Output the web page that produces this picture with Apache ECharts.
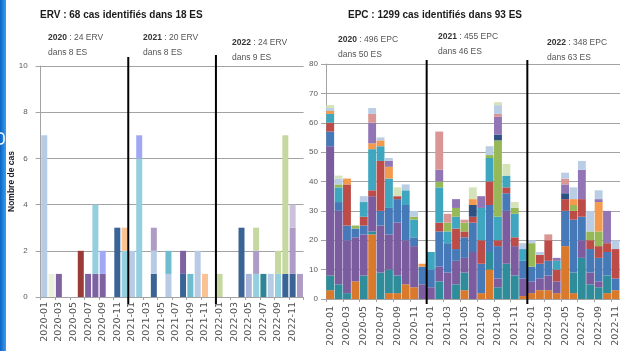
<!DOCTYPE html>
<html><head><meta charset="utf-8">
<script src="https://cdn.jsdelivr.net/npm/echarts@6/dist/echarts.min.js"></script>
<style>html,body{margin:0;padding:0;background:#fff;overflow:hidden;width:620px;height:351px;}#c{width:640px;height:351px;}</style>
</head><body><div id="c"></div>
<script>
// ---- categories ----
const months = ['2020-01','2020-02','2020-03','2020-04','2020-05','2020-06','2020-07','2020-08','2020-09','2020-10','2020-11','2020-12',
 '2021-01','2021-02','2021-03','2021-04','2021-05','2021-06','2021-07','2021-08','2021-09','2021-10','2021-11','2021-12',
 '2022-01','2022-02','2022-03','2022-04','2022-05','2022-06','2022-07','2022-08','2022-09','2022-10','2022-11','2022-12'];

// ---- ERV : cases per establishment (ES) ----
const erv_es01 = [0,0,0,0,0,0,0,0,0,0,3,0, 0,0,0,1,0,0,0,1,0,0,0,0, 0,0,0,3,0,0,0,0,0,1,1,0];
const erv_es02 = [7,0,0,0,0,0,0,0,0,0,0,0, 2,0,0,1,0,1,0,0,0,2,0,0, 0,0,0,0,0,0,0,1,0,0,0,0];
const erv_es03 = [0,0,1,0,0,0,1,1,1,0,0,0, 0,0,0,0,0,0,0,1,0,0,0,0, 0,0,0,0,0,0,0,0,0,0,0,0];
const erv_es04 = [0,0,0,0,0,2,0,0,0,0,0,0, 0,0,0,0,0,0,0,0,0,0,0,0, 0,0,0,0,0,0,0,0,0,0,0,0];
const erv_es05 = [0,0,0,0,0,0,0,3,0,0,0,2, 0,6,0,0,0,0,0,0,0,0,0,0, 0,0,0,0,0,1,0,0,1,0,0,0];
const erv_es06 = [0,0,0,0,0,0,0,0,1,0,0,0, 0,1,0,0,0,0,0,0,0,0,0,0, 0,0,0,0,0,0,0,0,0,0,0,0];
const erv_es07 = [0,0,0,0,0,0,0,0,0,0,0,1, 0,0,0,0,0,0,0,0,0,0,1,0, 0,0,0,0,0,0,0,0,0,0,0,0];
const erv_es08 = [0,1,0,0,0,0,0,0,0,0,0,0, 0,0,0,0,0,0,0,0,0,0,0,0, 0,0,0,0,0,0,0,0,0,0,0,0];
const erv_es09 = [0,0,0,0,0,0,0,0,0,0,0,0, 0,0,0,1,0,0,0,0,0,0,0,0, 0,0,0,0,0,1,0,0,0,0,2,1];
const erv_es10 = [0,0,0,0,0,0,0,0,0,0,0,0, 0,0,0,0,0,1,0,0,1,0,0,0, 0,0,0,0,0,0,0,0,0,0,0,0];
const erv_es11 = [0,0,0,0,0,0,0,0,0,0,0,0, 0,0,0,0,0,0,0,0,0,0,0,0, 1,0,0,0,0,1,0,0,1,6,0,0];
const erv_es12 = [0,0,0,0,0,0,0,0,0,0,0,0, 0,0,0,0,0,0,0,0,0,0,0,0, 0,0,0,0,0,0,0,0,0,0,1,0];
const erv_es13 = [0,0,0,0,0,0,0,0,0,0,0,0, 0,0,0,0,0,0,0,0,0,0,0,0, 0,0,0,0,1,0,0,0,0,0,0,0];
const erv_es14 = [0,0,0,0,0,0,0,0,0,0,0,0, 0,0,0,0,0,0,0,0,0,0,0,0, 0,0,0,0,0,0,1,0,0,0,0,0];

// ---- EPC : cases per establishment group ----
const epc_a = [3,0,0,6,0,22,0,2,2,5,4,0, 0,0,0,0,3,0,2,10,0,0,0,1, 2,3,3,2,18,2,0,0,0,2,3,2];
const epc_b = [5,5,2,0,8,1,9,8,6,0,0,0, 0,6,0,5,6,0,0,6,4,12,8,0, 0,0,0,0,0,7,14,5,4,6,0,0];
const epc_c = [44,25,18,15,14,12,16,12,18,15,14,5, 4,5,9,8,5,16,0,0,3,18,10,6, 4,4,5,4,0,0,6,4,2,0,0,5];
const epc_d = [5,3,5,3,3,0,5,9,8,12,3,6, 6,12,10,4,7,10,10,16,11,6,0,6, 5,5,5,0,12,18,8,8,8,8,4,0];
const epc_e = [3,0,14,0,3,2,17,0,1,0,0,0, 0,3,0,7,2,2,8,8,2,2,3,0, 0,3,7,4,4,3,6,3,4,3,10,5];
const epc_f = [3,5,0,0,5,14,5,10,0,5,6,0, 6,12,4,4,0,0,11,8,8,4,8,4, 0,0,0,3,0,0,0,0,0,0,0,0];
const epc_g = [0,1,0,1,0,0,0,0,0,0,1,0, 0,2,3,3,3,0,0,1,26,0,2,0, 8,0,0,0,0,2,0,3,5,0,0,0];
const epc_h = [0,0,0,0,0,0,0,0,0,0,0,0, 0,0,0,0,0,4,0,0,2,0,0,0, 0,0,0,0,2,0,0,0,0,0,0,0];
const epc_i = [1,0,2,0,0,2,2,4,0,0,0,1, 0,0,0,0,0,2,0,0,0,0,0,0, 0,0,0,0,0,2,0,0,10,0,0,0];
const epc_m = [0,0,0,0,0,7,0,2,0,0,0,0, 0,4,0,3,0,0,4,0,6,0,0,0, 0,0,0,1,3,0,10,0,1,11,0,0];
const epc_j = [0,0,0,0,0,3,0,0,0,0,0,0, 0,13,3,0,1,0,0,0,1,0,0,0, 0,0,2,0,2,0,0,0,0,0,0,0];
const epc_k = [1,2,0,0,2,2,1,1,0,2,2,0, 0,0,0,0,0,0,0,3,3,0,0,2, 1,1,0,0,2,4,3,7,3,0,3,3];
const epc_l = [1,1,0,0,0,0,0,0,3,0,0,0, 0,0,0,0,0,4,0,0,1,4,2,0, 0,0,0,0,0,0,0,0,0,0,0,0];

// ---- texts ----
const ervTitle = 'ERV : 68 cas identifiés dans 18 ES';
const epcTitle = 'EPC : 1299 cas identifiés dans 93 ES';
const ervYears = [['2020',' : 24 ERV','dans 8 ES'],['2021',' : 20 ERV','dans 8 ES'],['2022',' : 24 ERV','dans 9 ES']];
const epcYears = [['2020',' : 496 EPC','dans 50 ES'],['2021',' : 455 EPC','dans 46 ES'],['2022',' : 348 EPC','dans 63 ES']];
const yName = 'Nombre de cas';

// ---- styling (separate from data) ----
const ervDefs = [
 [erv_es01,'#3a6396'],[erv_es02,'#b7cbe4'],[erv_es03,'#7f62a1'],[erv_es04,'#9a3b38'],
 [erv_es05,'#93cfde'],[erv_es06,'#a0a7f3'],[erv_es07,'#f9c394'],[erv_es08,'#e9f0dc'],
 [erv_es09,'#ae9cc6'],[erv_es10,'#6fbccf'],[erv_es11,'#c5d8a0'],[erv_es12,'#ccc1da'],
 [erv_es13,'#aab6d9'],[erv_es14,'#2f8597']
];
const epcDefs = [
 [epc_a,'#d8792c'],[epc_b,'#2f8d9b'],[epc_c,'#7b5c9e'],[epc_d,'#4679b8'],[epc_e,'#bd4b47'],
 [epc_f,'#3ea6bf'],[epc_g,'#97b856'],[epc_h,'#2d5183'],[epc_i,'#f39a4e'],[epc_m,'#9175b5'],
 [epc_j,'#d99694'],[epc_k,'#b9cde5'],[epc_l,'#d5e3bb']
];

const chart = echarts.init(document.getElementById('c'), null, {width:640, height:351, renderer:'canvas'});
const gridCol = '#a3a3a3';
const FONT = 'Liberation Sans, Arial, sans-serif';

function xAx(gi, margin){
  return {type:'category', gridIndex:gi, data:months, boundaryGap:true,
    axisLine:{show:true, lineStyle:{color:gridCol}},
    axisTick:{show:true, length:3, lineStyle:{color:gridCol}},
    axisLabel:{interval:1, rotate:90, fontSize:9.5, fontFamily:'DejaVu Sans', color:'#505050', margin:margin}};
}
function yAx(gi, max, interval, margin, name){
  return {type:'value', gridIndex:gi, min:0, max:max, interval:interval,
    name:name||'', nameLocation:'middle', nameGap:24, nameRotate:90, nameMoveOverlap:false,
    nameTextStyle:{fontSize:8.5, fontWeight:'bold', color:'#222', fontFamily:FONT},
    axisLine:{show:true, lineStyle:{color:gridCol}},
    axisTick:{show:true, length:5, lineStyle:{color:gridCol}},
    splitLine:{show:true, lineStyle:{color:gridCol, width:1}},
    axisLabel:{fontSize:8, color:'#5a5a5a', margin:margin, fontFamily:FONT}};
}

const series = [];
ervDefs.forEach((d,i)=>series.push({type:'bar', name:'ERV-ES'+(i+1), stack:'erv', xAxisIndex:0, yAxisIndex:0,
  data:d[0], barCategoryGap:'18%', itemStyle:{color:d[1]}, silent:true}));
epcDefs.forEach((d,i)=>series.push({type:'bar', name:'EPC-'+(i+1), stack:'epc', xAxisIndex:1, yAxisIndex:1,
  data:d[0], barCategoryGap:'6%', itemStyle:{color:d[1]}, silent:true}));

chart.setOption({
  animation:false,
  backgroundColor:'#fff',
  grid:[{left:40.6, top:66, width:263, height:231},
        {left:326, top:64, width:302, height:235}],
  xAxis:[xAx(0,5), xAx(1,7)],
  yAxis:[yAx(0,10,2,13,yName), yAx(1,80,10,8)],
  series:series
});

function boundary(xi, idx){
  const a = chart.convertToPixel({xAxisIndex:xi}, months[idx-1]);
  const b = chart.convertToPixel({xAxisIndex:xi}, months[idx]);
  return (a+b)/2;
}
const g = [];
// left blue stripe
g.push({type:'rect', shape:{x:0,y:0,width:6,height:351},
  style:{fill:new echarts.graphic.LinearGradient(0,0,1,0,[{offset:0,color:'#0b63c4'},{offset:1,color:'#3a9ef0'}])}, z:10});
g.push({type:'rect', shape:{x:-3,y:133,width:7,height:11,r:4}, style:{fill:'none', stroke:'#ffffff', lineWidth:1.5}, z:11});
// black year separators
[[0,12,57],[0,24,55],[1,12,60],[1,24,60]].forEach(s=>{
  const x = boundary(s[0], s[1]);
  g.push({type:'line', shape:{x1:x,y1:s[2],x2:x,y2:304}, style:{stroke:'#000', lineWidth:2}, z:20});
});
// titles
g.push({type:'text', x:40, y:15, style:{text:ervTitle, font:'bold 10px '+FONT, fill:'#1a1a1a', verticalAlign:'middle'}, z:20});
g.push({type:'text', x:348, y:15, style:{text:epcTitle, font:'bold 10px '+FONT, fill:'#1a1a1a', verticalAlign:'middle'}, z:20});
// year annotations
const ervPos = [[48,37],[143,37],[232,42]];
const epcPos = [[338,39],[438,36],[547,42]];
function ann(t,p){
  g.push({type:'text', x:p[0], y:p[1]-7, style:{text:'{b|'+t[0]+'}{n|'+t[1]+'}\n{n|'+t[2]+'}',
    rich:{b:{fontWeight:'bold', fontSize:8.5, fill:'#333', fontFamily:FONT, lineHeight:15},
          n:{fontSize:8.5, fill:'#555', fontFamily:FONT, lineHeight:15}}}, z:20});
}
ervYears.forEach((t,i)=>ann(t,ervPos[i]));
epcYears.forEach((t,i)=>ann(t,epcPos[i]));
chart.setOption({graphic:g});
</script></body></html>
